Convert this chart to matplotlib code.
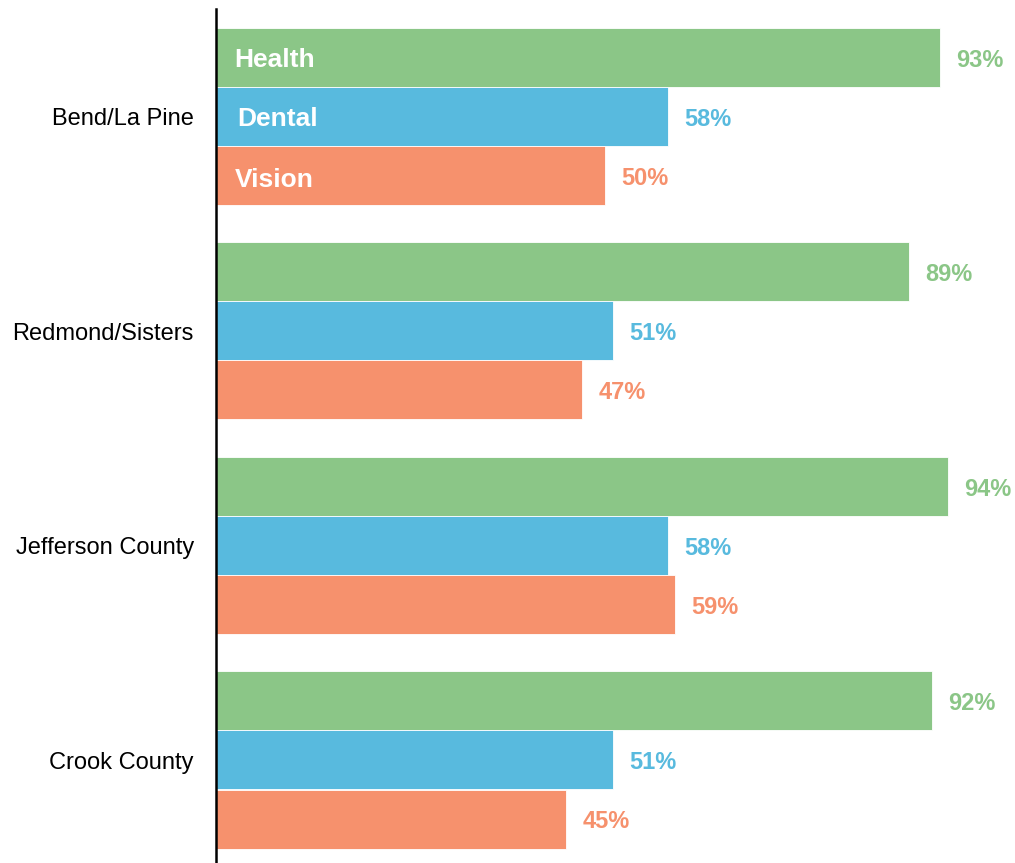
import matplotlib.pyplot as plt
import numpy as np

plt.rcParams['font.family'] = ['Liberation Sans', 'DejaVu Sans']

regions = ['Bend/La Pine', 'Redmond/Sisters', 'Jefferson County', 'Crook County']
series = ['Health', 'Dental', 'Vision']
health = [93, 89, 94, 92]
dental = [58, 51, 58, 51]
vision = [50, 47, 59, 45]
colors = ['#8BC687', '#58BADE', '#F6916D']

fig = plt.figure(figsize=(10.15, 8.63), dpi=100)
ax = fig.add_axes([216 / 1015, 0, 1 - 216 / 1015, 1 - 9 / 863])

h = 59 / 214.5
dy = 0.013  # small downward nudge so text sits on the bar centre
y = np.arange(len(regions))
for k, (vals, c) in enumerate(zip([health, dental, vision], colors)):
    pos = y + (k - 1) * h
    ax.barh(pos, vals, height=h, color=c, edgecolor='white', linewidth=0.6)
    for p, v in zip(pos, vals):
        ax.text(v + 2.1, p + dy, f'{v}%', color=c, fontsize=17, fontweight='bold',
                va='center', ha='left')
    ax.text(2.4 + (0.3 if k == 1 else 0), (k - 1) * h + dy + (0.01 if k == 2 else 0),
            series[k], color='white', fontsize=19, fontweight='bold',
            va='center', ha='left')

ax.set_xlim(0, (1015 - 216) / 7.785)
ax.set_ylim((863 - 116.5) / 214.5, (9 - 116.5) / 214.5)
ax.set_yticks(y)
ax.set_yticklabels(regions, fontsize=17)
ax.tick_params(axis='y', length=0, pad=16)
ax.set_xticks([])
for s in ['top', 'right', 'bottom']:
    ax.spines[s].set_visible(False)
ax.spines['left'].set_linewidth(1.8)

fig.savefig('out.png', dpi=100)
